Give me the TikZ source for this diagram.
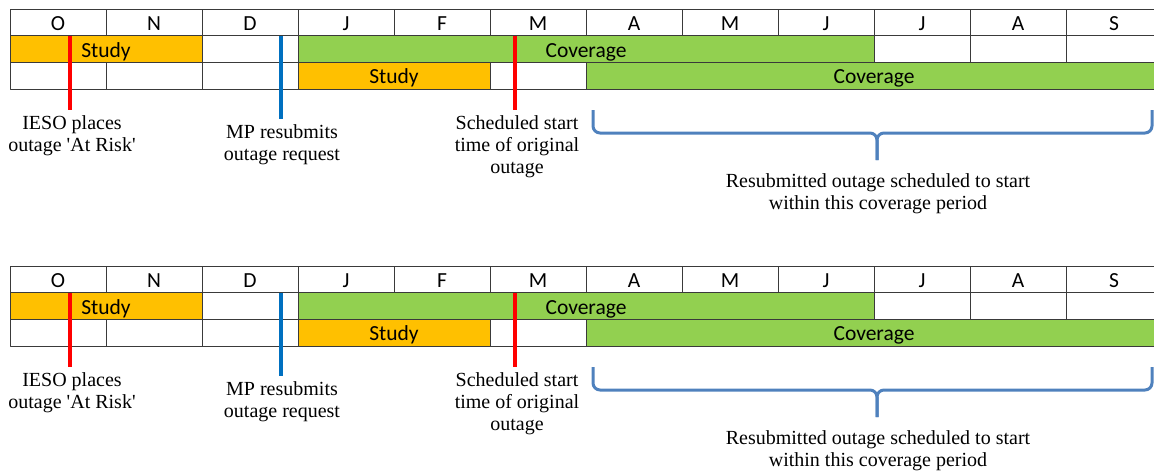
\documentclass[tikz,border=0pt]{standalone}
\usepackage{fontspec}
\setmainfont{Liberation Serif}
\newfontfamily\cellfont{Carlito}
\definecolor{studyorange}{HTML}{FFC000}
\definecolor{covgreen}{HTML}{92D050}
\definecolor{gridgray}{HTML}{3A3A3A}
\definecolor{markblue}{HTML}{0070C0}
\definecolor{bracecol}{HTML}{4F81BD}
\begin{document}
\begin{tikzpicture}[x=1pt,y=-1pt,line join=bevel]
  \tikzstyle{cell}=[draw=gridgray,line width=0.8pt,minimum height=26.7pt,inner sep=0pt,text height=16pt,text depth=0pt,font=\cellfont\fontsize{21.5}{24}\selectfont]
  \tikzstyle{note}=[align=center,font=\fontsize{20}{22}\selectfont]
  \tikzstyle{marker}=[line width=4pt,shorten >=2pt]
  \tikzstyle{brace}=[draw=bracecol,line width=3pt,rounded corners=7pt]
  \clip (0,0) rectangle (1154,472);
  \foreach \p/\dy in {a/0,b/257} {
  \begin{scope}[shift={(0,\dy)}]
    % months
    \foreach \m [count=\i from 0] in {O,N,D,J,F,M,A,M,J,J,A,S}
      \node[cell,minimum width=96pt] (\p-m\i) at (58+96*\i,22.3) {\m};
    % first outage
    \node[cell,fill=studyorange,minimum width=192pt] (\p-study1) at (106,49) {Study};
    \node[cell,minimum width=96pt] (\p-gap1) at (250,49) {};
    \node[cell,fill=covgreen,minimum width=576pt] (\p-cov1) at (586,49) {Coverage};
    \foreach \x [count=\i] in {922,1018,1114}
      \node[cell,minimum width=96pt] (\p-rest\i) at (\x,49) {};
    % resubmitted outage
    \foreach \x [count=\i] in {58,154,250}
      \node[cell,minimum width=96pt] (\p-pre\i) at (\x,75.7) {};
    \node[cell,fill=studyorange,minimum width=192pt] (\p-study2) at (394,75.7) {Study};
    \node[cell,minimum width=96pt] (\p-gap2) at (538,75.7) {};
    \node[cell,fill=covgreen,minimum width=576pt] (\p-cov2) at (874,75.7) {Coverage};
    % labels
    \node[note] (\p-atrisk) at (72,136) {IESO places\\outage \textquotesingle At Risk\textquotesingle};
    \node[note] (\p-resub) at (282,145) {MP resubmits\\outage request};
    \node[note] (\p-sched) at (517,146.5) {Scheduled start\\time of original\\outage};
    \node[note] (\p-within) at (878,193.5) {Resubmitted outage scheduled to start\\within this coverage period};
    \coordinate (\p-atrisktop) at (70,36);
    \coordinate (\p-resubtop) at (281,36);
    \coordinate (\p-schedtop) at (515,36);
    \draw[marker,red] (\p-atrisktop) -- (\p-atrisktop |- \p-atrisk.north);
    \draw[marker,markblue] (\p-resubtop) -- (\p-resubtop |- \p-resub.north);
    \draw[marker,red] (\p-schedtop) -- (\p-schedtop |- \p-sched.north);
    % brace
    \coordinate (\p-bl) at (593,110);
    \coordinate (\p-br) at (1152,110);
    \coordinate (\p-btip) at (877,160);
    \draw[brace] (\p-bl) -- (593,133) -- (877,133) -- (\p-btip);
    \draw[brace] (\p-br) -- (1152,133) -- (877,133) -- (\p-btip);
  \end{scope}}
\end{tikzpicture}
\end{document}
